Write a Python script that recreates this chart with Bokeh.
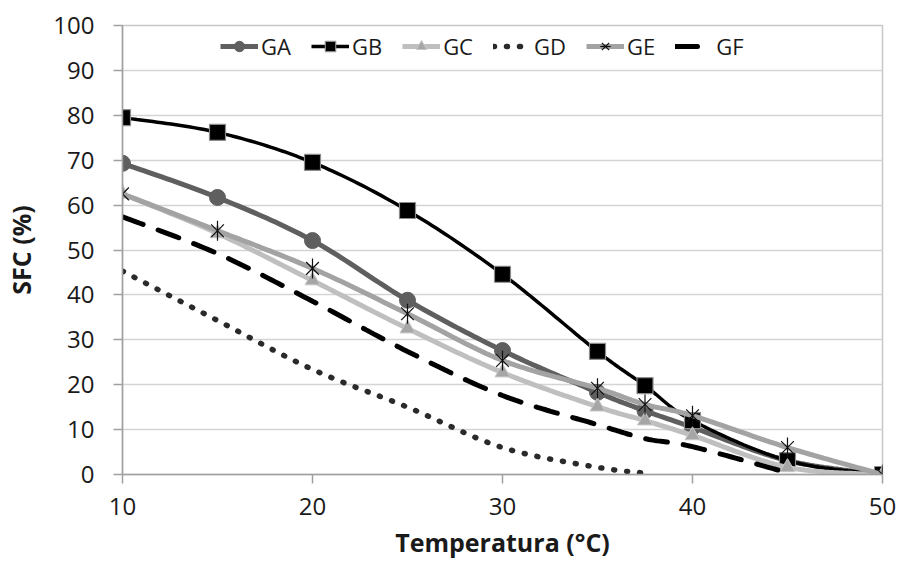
import numpy as np
from bokeh.plotting import figure
from bokeh.models import Legend, LegendItem, FixedTicker
from bokeh.embed import file_html
from bokeh.resources import INLINE

# ---- data ----
temps = [10, 15, 20, 25, 30, 35, 37.5, 40, 45, 50]
GA = [69.3, 61.7, 52.1, 38.8, 27.6, 18.3, 14.2, 10.5, 3.1, 0.0]
GB = [79.5, 76.2, 69.5, 58.8, 44.6, 27.4, 19.8, 12.0, 3.1, 0.0]
GC = [62.5, 53.7, 43.2, 32.5, 22.7, 15.1, 12.0, 8.7, 1.6, 0.0]
GD_t = [10, 15, 20, 25, 30, 35, 37.5]
GD = [45.3, 34.3, 23.4, 15.0, 6.0, 1.6, 0.3]
GE = [62.5, 54.3, 45.9, 35.8, 25.4, 19.2, 15.6, 13.1, 6.0, 0.0]
GF_t = [10, 15, 20, 25, 30, 35, 37.5, 40, 45]
GF = [57.4, 49.2, 38.6, 27.4, 17.6, 11.1, 8.0, 6.2, 0.4]
x_ticks = [10, 20, 30, 40, 50]
y_ticks = list(range(0, 101, 10))
x_title = "Temperatura (°C)"
y_title = "SFC (%)"


def smooth(xs, ys, n=24):
    """Excel-like smoothed line (Catmull-Rom style Bezier)."""
    xs = np.asarray(xs, float)
    ys = np.asarray(ys, float)
    px = np.concatenate([[xs[0]], xs, [xs[-1]]])
    py = np.concatenate([[ys[0]], ys, [ys[-1]]])
    ox, oy = [], []
    t = np.linspace(0, 1, n)
    for i in range(1, len(px) - 2):
        p0x, p0y = px[i], py[i]
        p3x, p3y = px[i + 1], py[i + 1]
        c1x = p0x + (px[i + 1] - px[i - 1]) / 6.0
        c1y = p0y + (py[i + 1] - py[i - 1]) / 6.0
        c2x = p3x - (px[i + 2] - px[i]) / 6.0
        c2y = p3y - (py[i + 2] - py[i]) / 6.0
        bx = (1 - t) ** 3 * p0x + 3 * (1 - t) ** 2 * t * c1x + 3 * (1 - t) * t ** 2 * c2x + t ** 3 * p3x
        by = (1 - t) ** 3 * p0y + 3 * (1 - t) ** 2 * t * c1y + 3 * (1 - t) * t ** 2 * c2y + t ** 3 * p3y
        if i > 1:
            bx, by = bx[1:], by[1:]
        ox.extend(bx.tolist())
        oy.extend(by.tolist())
    return ox, oy


W, H = 900, 563
p = figure(width=W, height=H, output_backend="svg", toolbar_location=None,
           x_range=(10, 50), y_range=(0, 100),
           min_border_left=122, min_border_right=W - 882, min_border_top=25, min_border_bottom=H - 474)
p.outline_line_color = "#c8c8c8"
p.outline_line_width = 1.5
p.background_fill_color = "white"
p.border_fill_color = "white"

FONT = "Open Sans"
p.xaxis.ticker = FixedTicker(ticks=x_ticks)
p.yaxis.ticker = FixedTicker(ticks=y_ticks)
for ax in (p.xaxis[0], p.yaxis[0]):
    ax.axis_line_color = "#a0a0a0"
    ax.axis_line_width = 1.5
    ax.major_tick_line_color = "#a0a0a0"
    ax.major_tick_line_width = 1.5
    ax.major_tick_out = 9
    ax.major_tick_in = 0
    ax.minor_tick_line_color = None
    ax.major_label_text_font = FONT
    ax.major_label_text_font_size = "24px"
    ax.major_label_text_color = "#1a1a1a"
    ax.axis_label_text_font = FONT
    ax.axis_label_text_font_size = "25px"
    ax.axis_label_text_font_style = "bold"
    ax.axis_label_text_color = "#1a1a1a"
p.xaxis.axis_label = x_title
p.yaxis.axis_label = y_title
p.xaxis.major_label_standoff = 14
p.yaxis.major_label_standoff = 19
p.xaxis.axis_label_standoff = 7
p.yaxis.axis_label_standoff = 12
p.xgrid.grid_line_color = None
p.ygrid.grid_line_color = "#d4d4d4"
p.ygrid.grid_line_width = 1.5

items = []

# GA
x, y = smooth(temps, GA)
l = p.line(x, y, line_color="#5f5f5f", line_width=5)
m = p.scatter(temps, GA, marker="circle", size=16, fill_color="#5f5f5f", line_color="#5f5f5f")
items.append(LegendItem(label="GA", renderers=[l, m]))

# GB
x, y = smooth(temps, GB)
l = p.line(x, y, line_color="#000000", line_width=3.5)
m = p.scatter(temps, GB, marker="square", size=16, fill_color="#000000", line_color="#8c8c8c", line_width=1.2)
items.append(LegendItem(label="GB", renderers=[l, m]))

# GC
x, y = smooth(temps, GC)
l = p.line(x, y, line_color="#bfbfbf", line_width=5)
m = p.scatter(temps, GC, marker="triangle", size=15, fill_color="#a6a6a6", line_color="#c8c8c8", line_width=1)
items.append(LegendItem(label="GC", renderers=[l, m]))

# GD
x, y = smooth(GD_t, GD)
l = p.line(x, y, line_color="#2a2a2a", line_width=5.5, line_dash="1 12", line_cap="round")
items.append(LegendItem(label="GD", renderers=[l]))

# GE
x, y = smooth(temps, GE)
l = p.line(x, y, line_color="#a3a3a3", line_width=5)
m1 = p.scatter(temps, GE, marker="x", size=18, line_color="#111111", line_width=1.2)
m2 = p.scatter(temps, GE, marker="dash", angle=np.pi / 2, size=20, line_color="#111111", line_width=1.2)
items.append(LegendItem(label="GE", renderers=[l, m1, m2]))

# GF
x, y = smooth(GF_t, GF)
l = p.line(x, y, line_color="#000000", line_width=5, line_dash="22 16", line_cap="round")
items.append(LegendItem(label="GF", renderers=[l]))

legend = Legend(items=items, orientation="horizontal", location=(98, 413),
                label_text_font=FONT, label_text_font_size="22px", label_text_color="#1a1a1a",
                glyph_width=38, glyph_height=26, label_standoff=3, spacing=20,
                padding=2, margin=0, border_line_color=None,
                background_fill_color="white", background_fill_alpha=1.0)
p.add_layout(legend, "center")

open("out.html", "w").write(file_html(p, INLINE))
